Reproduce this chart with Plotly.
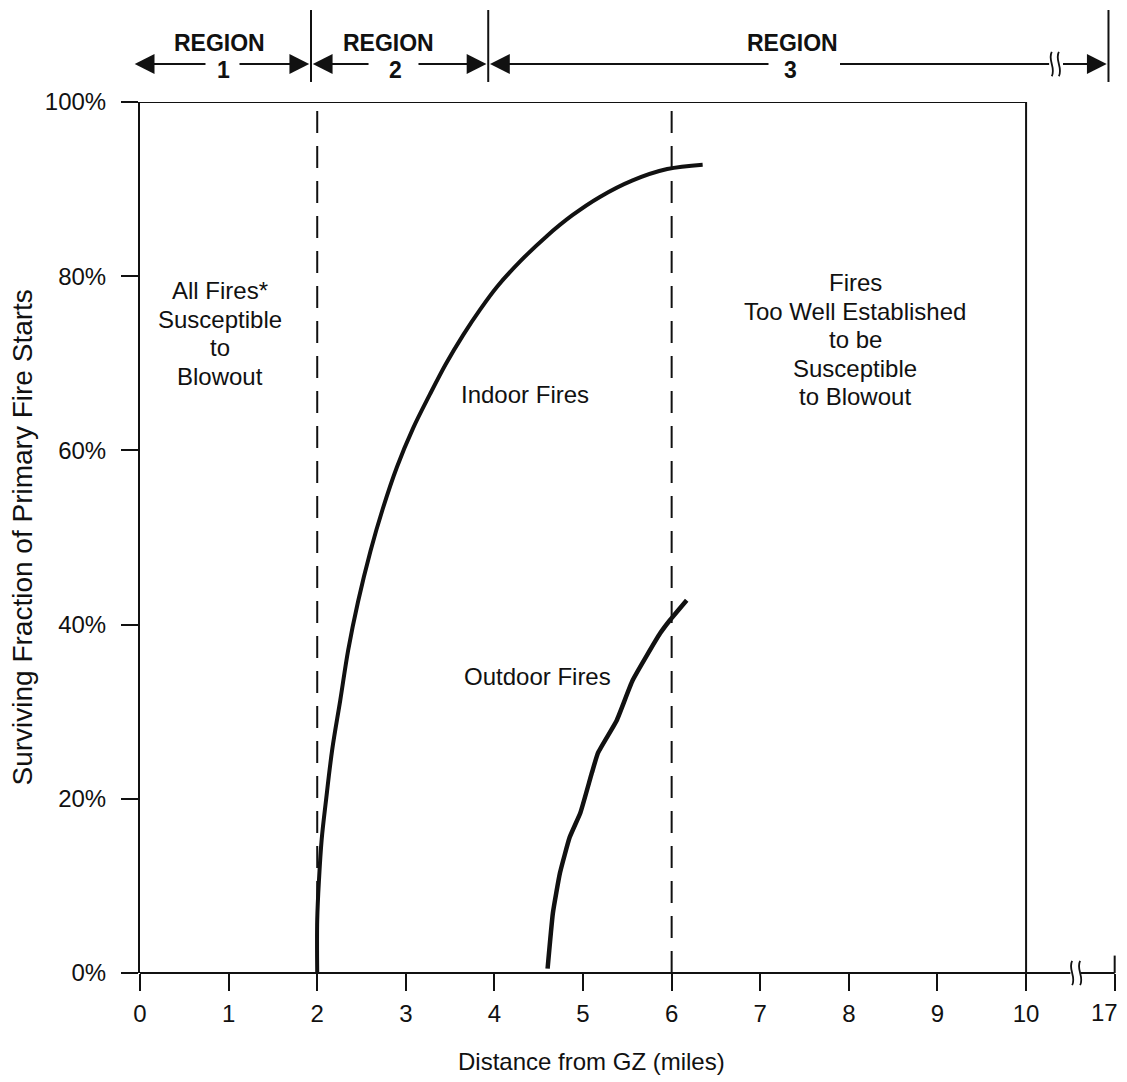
import plotly.graph_objects as go

# ---------------- data ----------------
indoor_x = [2.00, 2.00, 2.02, 2.05, 2.10, 2.17, 2.26, 2.35, 2.46, 2.60, 2.74, 2.90, 3.08, 3.27,
            3.45, 3.65, 3.84, 4.03, 4.29, 4.59, 4.88, 5.19, 5.56, 5.95, 6.35]
indoor_y = [0.0, 6.1, 10.7, 15.3, 19.9, 25.7, 31.3, 37.1, 42.6, 48.4, 53.3, 58.1, 62.5, 66.4,
            69.9, 73.3, 76.2, 78.8, 81.7, 84.6, 87.0, 89.1, 91.0, 92.3, 92.8]

outdoor_x = [4.60, 4.66, 4.74, 4.85, 4.97, 5.10, 5.17, 5.38, 5.56, 5.87, 5.98, 6.17]
outdoor_y = [0.5, 6.9, 11.5, 15.6, 18.4, 23.0, 25.3, 29.0, 33.6, 39.0, 40.5, 42.8]

x_tick_vals = [0, 1, 2, 3, 4, 5, 6, 7, 8, 9, 10, 11]
x_tick_text = ["0", "1", "2", "3", "4", "5", "6", "7", "8", "9", "10", "17"]
y_tick_vals = [0, 20, 40, 60, 80, 100]
y_tick_text = ["0%", "20%", "40%", "60%", "80%", "100%"]

region_boundaries = [2, 6]                    # dashed vertical lines (miles)
header_edges = [-0.08, 1.93, 3.93, 10.93]     # header separators (axis units; 17 mi drawn at 11)
region_names = ["1", "2", "3"]

label_left = ["All Fires*", "Susceptible", "to", "Blowout"]
label_right = ["Fires", "Too Well Established", "to be", "Susceptible", "to Blowout"]

FONT = "Liberation Sans, Arial, Helvetica, sans-serif"
BLACK = "#111111"
FS = 24

fig = go.Figure()

fig.add_trace(go.Scatter(x=indoor_x, y=indoor_y, mode="lines",
                         line=dict(color=BLACK, width=4, shape="spline", smoothing=1.0),
                         showlegend=False, hoverinfo="skip"))
fig.add_trace(go.Scatter(x=outdoor_x, y=outdoor_y, mode="lines",
                         line=dict(color=BLACK, width=4.5, shape="spline", smoothing=0.4),
                         showlegend=False, hoverinfo="skip"))

shapes = []
for bx in region_boundaries:
    shapes.append(dict(type="line", xref="x", yref="y", x0=bx, x1=bx, y0=0, y1=100,
                       line=dict(color=BLACK, width=2, dash="22px,13px")))
# frame: top and right
shapes.append(dict(type="line", xref="x", yref="y", x0=0, x1=10, y0=100, y1=100,
                   line=dict(color=BLACK, width=2)))
shapes.append(dict(type="line", xref="x", yref="y", x0=10, x1=10, y0=0, y1=100,
                   line=dict(color=BLACK, width=2)))
# x-axis line with break
shapes.append(dict(type="line", xref="x", yref="paper", x0=0, x1=10.5, y0=0, y1=0,
                   line=dict(color=BLACK, width=2)))
shapes.append(dict(type="line", xref="x", yref="paper", x0=10.62, x1=11, y0=0, y1=0,
                   line=dict(color=BLACK, width=2)))
shapes.append(dict(type="line", xref="x", yref="paper", x0=11, x1=11, y0=0, y1=0.02,
                   line=dict(color=BLACK, width=2)))


def squiggle(cx, cy, w=0.05, h=0.028):
    return dict(type="path", xref="x", yref="paper",
                path=(f"M {cx},{cy + h/2} C {cx - w},{cy + h/6} {cx + w},{cy - h/6} {cx},{cy - h/2}"),
                line=dict(color=BLACK, width=1.8))


shapes.append(squiggle(10.52, 0.0))
shapes.append(squiggle(10.61, 0.0))

# header
HY = 1.0436
for ex in header_edges:
    shapes.append(dict(type="line", xref="x", yref="paper", x0=ex, x1=ex, y0=1.023, y1=1.1056,
                       line=dict(color=BLACK, width=2)))
shapes.append(dict(type="line", xref="x", yref="paper", x0=7.9, x1=10.26, y0=HY, y1=HY,
                   line=dict(color=BLACK, width=2)))
shapes.append(squiggle(10.29, HY))
shapes.append(squiggle(10.37, HY))

annotations = []


def arrow(head, tail):
    annotations.append(dict(x=head, y=HY, xref="x", yref="paper", ax=tail, ay=0,
                            axref="x", ayref="pixel", text="", showarrow=True,
                            arrowhead=2, arrowsize=2.2, arrowwidth=1.8, arrowcolor=BLACK,
                            standoff=0, startstandoff=0))


arrow(-0.06, 0.756); arrow(1.91, 1.106)
arrow(1.95, 2.596); arrow(3.91, 3.126)
arrow(3.95, 7.11); arrow(10.91, 10.40)

region_text_x = [0.90, 2.81, 7.36]
region_num_x = [0.94, 2.88, 7.34]
for tx, nx, nm in zip(region_text_x, region_num_x, region_names):
    annotations.append(dict(x=tx, y=1.0677, xref="x", yref="paper", text="<b>REGION</b>",
                            xanchor="center", yanchor="middle",
                            showarrow=False, font=dict(family=FONT, size=23, color=BLACK)))
    annotations.append(dict(x=nx, y=1.0365, xref="x", yref="paper", text=f"<b>{nm}</b>",
                            xanchor="center", yanchor="middle",
                            showarrow=False, font=dict(family=FONT, size=23, color=BLACK)))

# in-plot labels
txt = dict(showarrow=False, xanchor="center", yanchor="middle",
           font=dict(family=FONT, size=FS, color=BLACK))


def text_block(lines, cx, cy, step=3.27):
    top = cy + step * (len(lines) - 1) / 2
    for i, ln in enumerate(lines):
        annotations.append(dict(x=cx, y=top - i * step, xref="x", yref="y", text=ln, **txt))


text_block(label_left, 0.9, 73.4)
text_block(label_right, 8.07, 72.7)
annotations.append(dict(x=4.35, y=66.4, xref="x", yref="y", text="Indoor Fires", **txt))
annotations.append(dict(x=4.49, y=34.0, xref="x", yref="y", text="Outdoor Fires", **txt))

# last tick label ("17") sits slightly left of its tick, as in the original
annotations.append(dict(x=10.88, y=-0.0448, xref="x", yref="paper", text=x_tick_text[-1], **txt))

# axis titles
annotations.append(dict(x=5.1, y=-0.102, xref="x", yref="paper",
                        text="Distance from GZ (miles)", **txt))
annotations.append(dict(x=-0.1204, y=0.5, xref="paper", yref="paper",
                        text="Surviving Fraction of Primary Fire Starts", textangle=-90,
                        showarrow=False, xanchor="center", yanchor="middle",
                        font=dict(family=FONT, size=28, color=BLACK)))

axis_tick_text = x_tick_text[:-1] + [""]

fig.update_layout(
    width=1119, height=1074,
    margin=dict(l=132, r=7, t=94, b=109),
    paper_bgcolor="white", plot_bgcolor="white",
    shapes=shapes, annotations=annotations,
    font=dict(family=FONT, size=FS, color=BLACK),
    xaxis=dict(range=[0, 11.06], tickvals=x_tick_vals, ticktext=axis_tick_text,
               ticks="outside", ticklen=17, tickwidth=2, tickcolor=BLACK,
               showline=False, showgrid=False, zeroline=False, automargin=False,
               tickfont=dict(family=FONT, size=FS, color=BLACK), ticklabelstandoff=2),
    yaxis=dict(range=[0, 100], tickvals=y_tick_vals, ticktext=y_tick_text,
               ticks="outside", ticklen=17, tickwidth=2, tickcolor=BLACK,
               showline=True, linewidth=2, linecolor=BLACK, automargin=False,
               showgrid=False, zeroline=False,
               tickfont=dict(family=FONT, size=FS, color=BLACK), ticklabelstandoff=10),
)

fig.write_html("out.html")
